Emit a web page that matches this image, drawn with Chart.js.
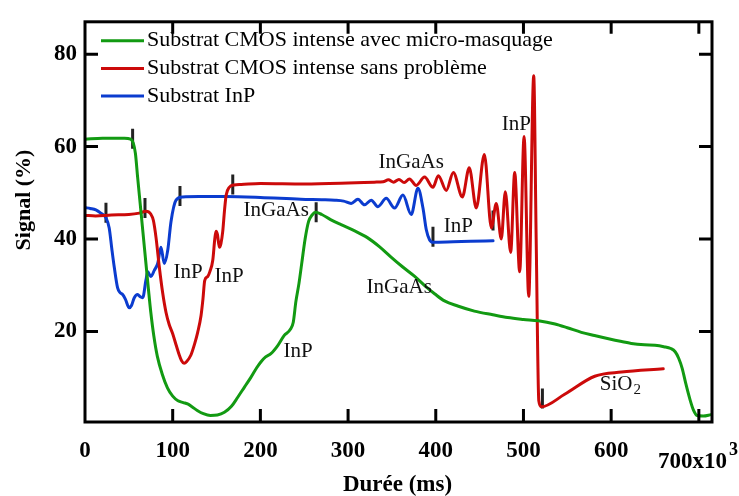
<!DOCTYPE html>
<html>
<head>
<meta charset="utf-8">
<title>Signal</title>
<script src="https://cdn.jsdelivr.net/npm/chart.js@4.4.1/dist/chart.umd.min.js"></script>
<style>
    html, body { margin: 0; padding: 0; background: #fff; }
    canvas { display: block; }
</style>
</head>
<body>
<canvas id="SignalChart" width="739" height="496"></canvas>
<script>
// axis ticks
var xTicks = [0, 100, 200, 300, 400, 500, 600, 700];
var yTicks = [20, 40, 60, 80];

var seriesNames = [
    'Substrat CMOS intense avec micro-masquage',
    'Substrat CMOS intense sans problème',
    'Substrat InP'
];

// green: avec micro-masquage
var greenX = [0, 20, 45, 52, 55, 57.5, 60, 63, 66, 69.5, 72.5, 75, 78.5, 82.5, 88, 94, 100, 106, 112, 117,
    122, 128, 135, 143, 151, 159, 167, 174, 182, 189, 196, 201, 206, 212, 220, 227, 234, 237.5, 240.5, 244,
    247, 251, 255, 259, 263, 270, 280, 292, 307, 322, 336, 349, 362, 376, 388, 399, 410, 425, 444, 465,
    482, 500, 517, 536, 550, 566, 581, 597, 612, 623, 638, 650, 660, 668, 673, 677, 681, 685, 690, 694,
    698, 705, 714];
var greenY = [61.6, 61.8, 61.8, 61.6, 60.8, 58.5, 53.4, 47.5, 41.6, 34.7, 28.8, 24.2, 19, 14.6, 10.8, 7.8, 6, 5, 4.6, 4.3,
    3.7, 2.9, 2.2, 1.8, 1.9, 2.5, 3.8, 5.7, 8, 10, 12.2, 13.5, 14.5, 15.2, 17, 19.1, 20.4, 22, 26.5, 30.4,
    34.5, 40, 43.8, 45.2, 45.8, 45.3, 44.2, 43.1, 41.8, 40.3, 38.3, 36.1, 34, 31.9, 29.8, 28.1, 26.6, 25.5, 24.4, 23.6,
    23, 22.6, 22.3, 21.6, 20.8, 19.8, 19.1, 18.4, 17.8, 17.4, 17.1, 17, 16.7, 16.3, 15.6, 14.2, 12, 8.8, 5.2, 2.9,
    1.8, 1.7, 2.0];

// red: sans problème
var redX = [0, 12, 30, 50, 62, 69.5, 75, 78, 81, 84.7, 88.6, 92.4, 96, 100, 104, 107.5, 110, 113, 116, 120.8,
    125, 128.5, 132.3, 134.5, 136.5, 140, 142.5, 145.7, 148, 149.4, 151, 153.2, 155, 157.1, 159, 161, 164.6, 170, 178, 200,
    250, 300, 330, 340, 346, 352, 358, 364, 370, 377.7, 387.2, 396.8, 402.9, 412, 420, 430.3, 438.2, 446.2, 455.4, 463.4,
    469, 474.7, 479.3, 485.4, 490, 495.7, 500.7, 506, 511.7, 514.5, 517.5, 520.4, 547, 581.3, 611.8, 659.4];
var redY = [45.1, 45.0, 45.2, 45.3, 45.6, 46.0, 45.4, 44, 40.3, 34, 28.3, 24.1, 21.5, 19.5, 17, 14.9, 13.7, 13.1, 13.5, 14.9,
    17.3, 19.8, 23.4, 27, 31, 31.9, 33, 35.4, 40, 41.7, 41, 38.2, 39, 41.7, 46, 49.5, 51.2, 51.7, 51.8, 52.0,
    51.9, 52.1, 52.3, 52.4, 52.8, 52.3, 52.9, 52.2, 53.0, 51.6, 53.4, 51.2, 53.7, 50.5, 54.4, 49.1, 55.4, 46.7, 58.3, 42.4,
    47.7, 40.0, 50.2, 37.1, 54.4, 32.9, 62.2, 27.6, 75.3, 40, 5, 3.7, 6.4, 10.3, 11.2, 11.9];

// blue: substrat InP
var blueX = [0, 6, 12.4, 18, 23.9, 27.6, 30.5, 33.3, 37.2, 40, 42.9, 46, 50.5, 53, 56.2, 60, 63, 65.8, 69.5, 71.5,
    73.5, 75.2, 79, 82.9, 86.6, 90.4, 94.3, 98.1, 103.8, 111.4, 130, 160, 200, 246, 270, 285, 295, 303.5, 311.2, 318.7,
    326.4, 334, 343.5, 353, 362.6, 372, 379.7, 385.4, 389.2, 393, 397, 420, 440, 465.3];
var blueY = [46.8, 46.6, 46.3, 45.6, 44.6, 42.4, 38, 34.0, 29.4, 28.4, 28.0, 27, 25.1, 25.6, 27.3, 28.0, 27.5, 27.3, 31.1, 32.9,
    32.3, 31.9, 33.2, 34.7, 38.2, 34.7, 37.5, 43.8, 48.4, 49.1, 49.2, 49.2, 49.0, 48.6, 48.5, 48.4, 48.2, 47.7, 48.6, 47.4,
    48.4, 47.0, 48.8, 46.7, 49.5, 45.3, 51.0, 46.7, 42, 39.8, 39.3, 39.4, 39.5, 39.6];

// small black interface marks
var markX = [23.9, 54.3, 68.4, 108.3, 168.5, 263.6, 396.8, 465.3, 521.6];
var markY = [45.7, 61.7, 46.7, 49.3, 51.8, 45.8, 40.5, 44, 5.5];

// layer names written on the plot
var noteText = ['InGaAs', 'InP', 'InP', 'InP', 'InGaAs', 'InGaAs', 'InP', 'InP'];
var noteX = [218, 117.5, 164.3, 243, 358.3, 372, 425.7, 491.9];
var noteY = [46.1, 32.8, 31.9, 15.6, 29.4, 56.5, 42.7, 64.7];
var sioX = 611.8, sioY = 8.6;

var colors = ['#129a12', '#cc0a0a', '#0b3ccf'];
var serif = '"Liberation Serif", "Times New Roman", serif';

function pts(xs, ys) {
    return xs.map(function(x, i) { return { x: x, y: ys[i] }; });
}

function curve(i, xs, ys) {
    return {
        label: seriesNames[i],
        data: pts(xs, ys),
        borderColor: colors[i],
        backgroundColor: colors[i],
        borderWidth: 3,
        pointRadius: 0,
        cubicInterpolationMode: 'monotone',
        borderJoinStyle: 'round',
        borderCapStyle: 'round'
    };
}

// frame, inward ticks, legend, notes and titles
var decorPlugin = {
    id: 'decor',
    afterDatasetsDraw: function(chart) {
        var ctx = chart.ctx, a = chart.chartArea;
        var xs = chart.scales.x, ys = chart.scales.y;
        ctx.save();
        ctx.strokeStyle = '#000';
        ctx.lineWidth = 3;
        ctx.strokeRect(a.left, a.top, a.right - a.left, a.bottom - a.top);
        ctx.beginPath();
        xTicks.forEach(function(v) {
            if (v === 0) return;
            var px = xs.getPixelForValue(v);
            ctx.moveTo(px, a.bottom); ctx.lineTo(px, a.bottom - 13);
            ctx.moveTo(px, a.top); ctx.lineTo(px, a.top + 12);
        });
        yTicks.forEach(function(v) {
            var py = ys.getPixelForValue(v);
            ctx.moveTo(a.left, py); ctx.lineTo(a.left + 13, py);
            ctx.moveTo(a.right, py); ctx.lineTo(a.right - 13, py);
        });
        ctx.stroke();

        // notes
        ctx.fillStyle = '#111';
        ctx.font = '21px ' + serif;
        ctx.textAlign = 'center';
        ctx.textBaseline = 'middle';
        noteText.forEach(function(t, i) {
            ctx.fillText(t, xs.getPixelForValue(noteX[i]), ys.getPixelForValue(noteY[i]));
        });
        var sx = xs.getPixelForValue(sioX), sy = ys.getPixelForValue(sioY);
        ctx.textAlign = 'right';
        ctx.fillText('SiO', sx + 11, sy);
        ctx.textAlign = 'left';
        ctx.font = '15px ' + serif;
        ctx.fillText('2', sx + 12, sy + 6);

        // legend
        ctx.font = '22px ' + serif;
        ctx.textAlign = 'left';
        ctx.fillStyle = '#000';
        seriesNames.forEach(function(name, i) {
            var y = 40.7 + i * 27.7;
            ctx.strokeStyle = colors[i];
            ctx.lineWidth = 3;
            ctx.beginPath();
            ctx.moveTo(101, y); ctx.lineTo(144, y);
            ctx.stroke();
            ctx.fillText(name, 147, y);
        });
        ctx.restore();
    },
    afterDraw: function(chart) {
        var ctx = chart.ctx;
        ctx.save();
        ctx.fillStyle = '#000';
        ctx.font = 'bold 23px ' + serif;
        ctx.textAlign = 'left';
        ctx.textBaseline = 'alphabetic';
        ctx.fillText('700x10', 658, 468);
        ctx.font = 'bold 18px ' + serif;
        ctx.fillText('3', 729, 455);

        ctx.font = 'bold 23px ' + serif;
        ctx.textAlign = 'center';
        ctx.textBaseline = 'middle';
        ctx.fillText('Durée (ms)', 397.5, 485);
        ctx.translate(24, 200);
        ctx.rotate(-Math.PI / 2);
        ctx.font = 'bold 22px ' + serif;
        ctx.fillText('Signal (%)', 0, 0);
        ctx.restore();
    }
};

var ctx = document.getElementById('SignalChart').getContext('2d');
var signalChart = new Chart(ctx, {
    type: 'line',
    data: {
        datasets: [
            curve(0, greenX, greenY),
            curve(1, redX, redY),
            curve(2, blueX, blueY),
            {
                label: 'marks',
                data: pts(markX, markY),
                showLine: false,
                pointStyle: 'line',
                rotation: 90,
                pointRadius: 10,
                pointBorderWidth: 3,
                pointBorderColor: '#222',
                pointBackgroundColor: '#222'
            }
        ]
    },
    options: {
        responsive: false,
        animation: false,
        layout: { padding: { top: 13, right: 27, left: 0, bottom: 0 } },
        plugins: {
            legend: { display: false },
            tooltip: { enabled: false }
        },
        scales: {
            x: {
                type: 'linear',
                min: 0,
                max: 715,
                grid: { display: false, drawTicks: false },
                border: { display: false },
                afterBuildTicks: function(s) { s.ticks = xTicks.map(function(v) { return { value: v }; }); },
                afterFit: function(s) { s.height = 74; },
                ticks: {
                    padding: 15,
                    maxRotation: 0,
                    autoSkip: false,
                    color: '#000',
                    font: { family: serif, size: 23, weight: 'bold' },
                    callback: function(v) { return v === 700 ? '' : String(v); }
                }
            },
            y: {
                min: 0.4,
                max: 87,
                grid: { display: false, drawTicks: false },
                border: { display: false },
                afterBuildTicks: function(s) { s.ticks = yTicks.map(function(v) { return { value: v }; }); },
                afterFit: function(s) { s.width = 85; },
                ticks: {
                    padding: 8,
                    color: '#000',
                    font: { family: serif, size: 23, weight: 'bold' }
                }
            }
        }
    },
    plugins: [decorPlugin]
});
</script>
</body>
</html>
